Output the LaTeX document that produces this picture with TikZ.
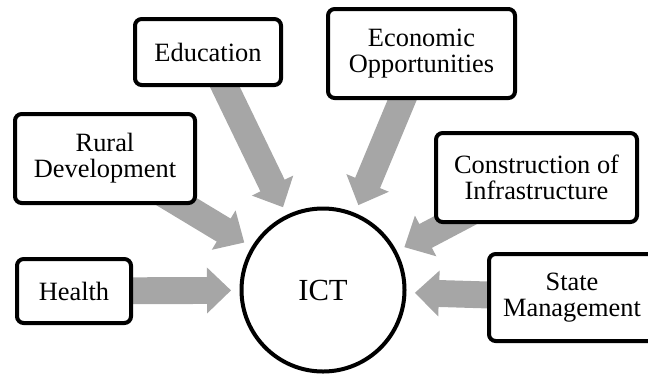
\documentclass[tikz,border=0pt]{standalone}
\usepackage{fontspec}
\setmainfont{Liberation Serif}
\usetikzlibrary{calc,backgrounds}
\definecolor{arrowgray}{HTML}{A6A6A6}
\newcommand{\blockarr}[2]{%
  \coordinate (T) at ($(#2.center)!69pt!(#1.center)$);
  \coordinate (H) at ($(T)!18pt!(#1.center)$);
  \fill[arrowgray]
    ($(#1.center)!10.1pt!90:(T)$) -- ($(H)!10.1pt!90:(T)$) --
    ($(H)!17.25pt!90:(T)$) -- (T) -- ($(H)!17.25pt!-90:(T)$) --
    ($(H)!10.1pt!-90:(T)$) -- ($(#1.center)!10.1pt!-90:(T)$) -- cycle;
}
\tikzset{
  box/.style={draw, line width=3pt, rounded corners=5pt, fill=white,
    align=center, inner sep=0pt, font=\fontsize{19.8}{19.6}\selectfont},
  hub/.style={draw, circle, line width=3pt, fill=white, inner sep=0pt,
    minimum size=122.25pt, font=\fontsize{23}{23}\selectfont}
}
\begin{document}
\begin{tikzpicture}[x=0.75pt,y=-0.75pt]
\useasboundingbox (0,0) rectangle (648,376);
\clip (0,0) rectangle (648,376);
\node[hub] (ict) at (323,290) {ICT};
\node[box, minimum width=109.5pt, minimum height=49.5pt] (edu) at (208,52) {Education};
\node[box, minimum width=135pt, minimum height=66.75pt] (rural) at (105,158.5) {Rural\\Development};
\node[box, minimum width=85.5pt, minimum height=48pt] (health) at (74,291) {Health};
\node[box, minimum width=140.25pt, minimum height=66.75pt] (econ) at (421.5,53.5) {Economic\\Opportunities};
\node[box, minimum width=150.75pt, minimum height=66.75pt] (cons) at (536.5,177.5) {Construction of\\Infrastructure};
\node[box, minimum width=124.5pt, minimum height=65.25pt] (state) at (572,297.5) {State\\Management};
\begin{scope}[on background layer]
  \blockarr{edu}{ict}
  \blockarr{rural}{ict}
  \blockarr{health}{ict}
  \blockarr{econ}{ict}
  \blockarr{cons}{ict}
  \blockarr{state}{ict}
\end{scope}
\end{tikzpicture}
\end{document}
